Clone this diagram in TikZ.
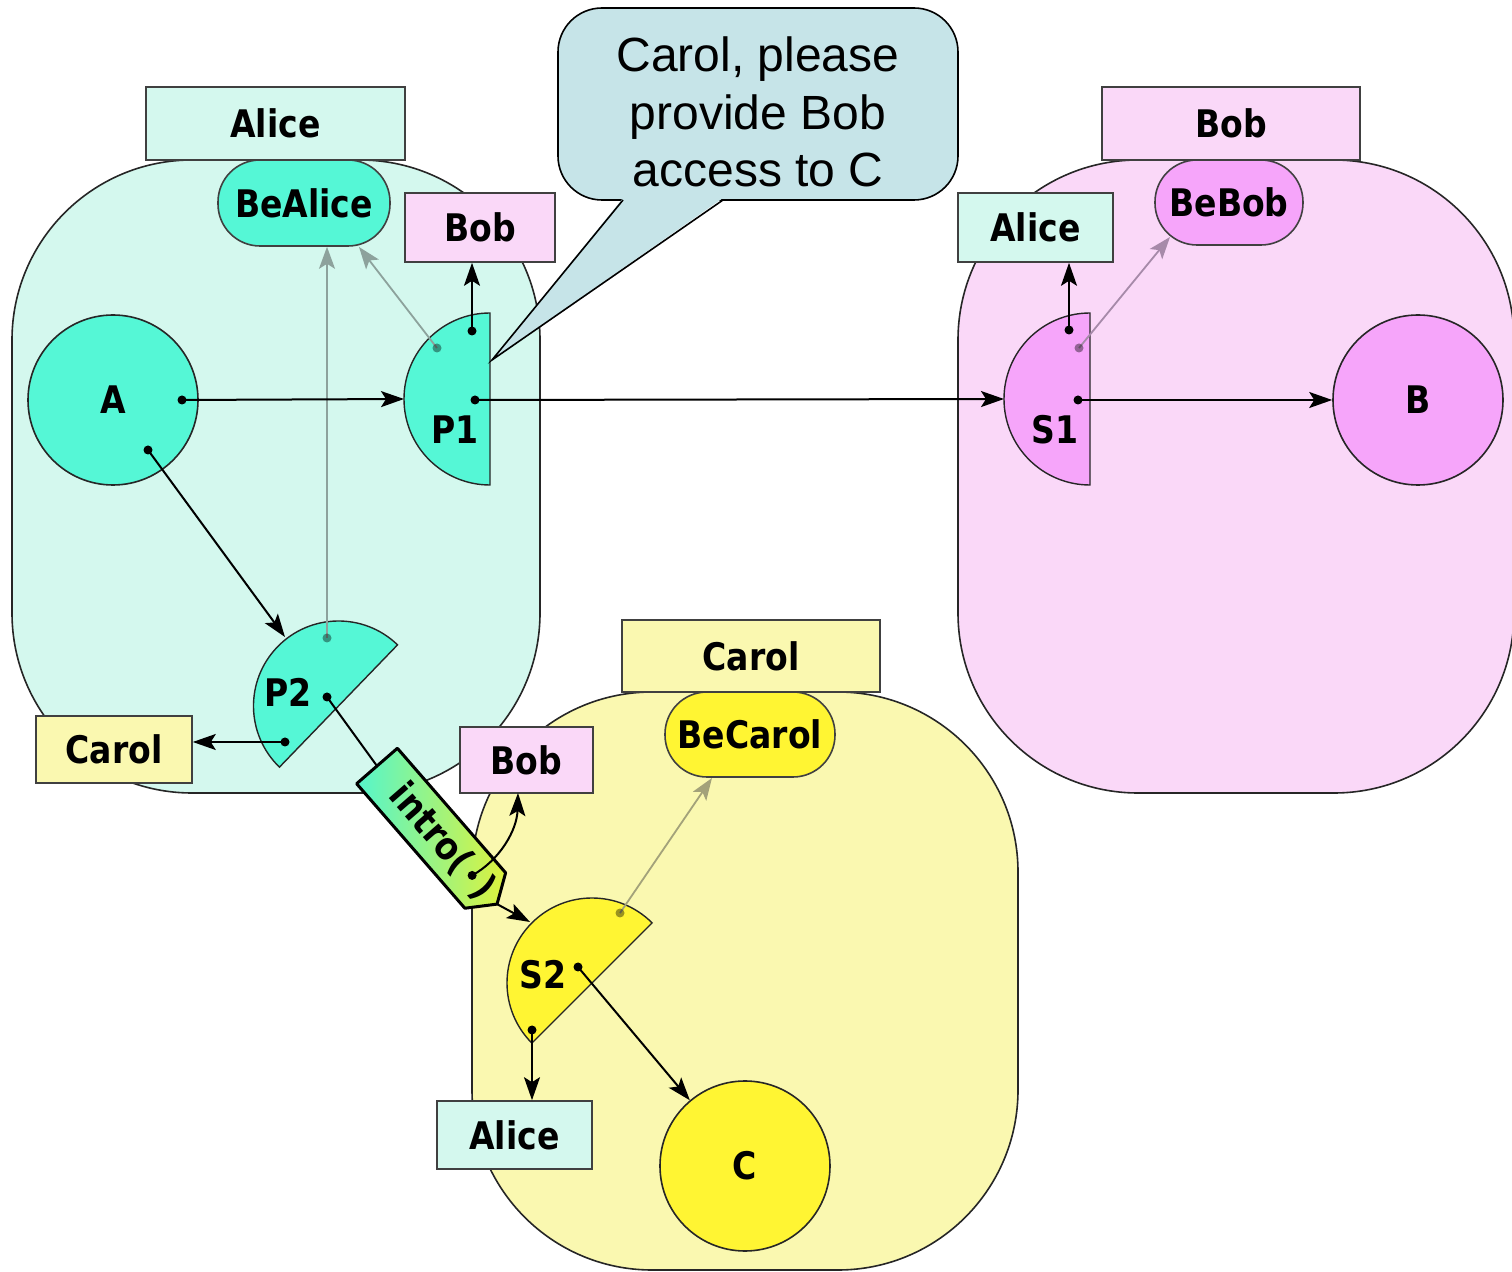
\documentclass[tikz,border=0pt]{standalone}
\usepackage{fontspec}
\setmainfont{DejaVu Sans}[FakeStretch=0.87]
\newfontfamily\bubblefont{Liberation Sans}
\usetikzlibrary{arrows.meta,calc}

\definecolor{aliceLight}{HTML}{D4F8EE}
\definecolor{aliceStrong}{HTML}{55F7D6}
\definecolor{bobLight}{HTML}{FAD8F8}
\definecolor{bobStrong}{HTML}{F6A5FA}
\definecolor{carolLight}{HTML}{FAF8B0}
\definecolor{carolStrong}{HTML}{FFF533}
\definecolor{bubbleFill}{HTML}{C6E4E8}
\definecolor{msgGreen}{HTML}{55F5CC}
\definecolor{msgYellow}{HTML}{DDF23C}
\definecolor{refAlice}{HTML}{8DA29C}
\definecolor{refBob}{HTML}{A68AA9}
\definecolor{refCarol}{HTML}{A3A27A}

\newcommand\lblfont{\bfseries\fontsize{19}{22}\selectfont}

\begin{document}
\begin{tikzpicture}[x=0.5pt,y=-0.5pt,
  vat/.style={draw=black!85, line width=0.8pt, rounded corners=90pt},
  tagbox/.style={draw=black!75, line width=0.8pt, inner sep=0pt, font=\lblfont},
  pill/.style={tagbox, rounded corners=21pt},
  orb/.style={circle, draw=black!85, line width=0.8pt, minimum size=85pt, inner sep=0pt, font=\lblfont},
  half/.style={draw=black!85, line width=0.7pt},
  facet/.style={font=\lblfont, inner sep=0pt},
  flow/.style={line width=1pt, -{Stealth[length=11.5pt,width=8pt,inset=2.5pt]}},
  refarrow/.style={line width=0.9pt, draw=#1, -{Stealth[length=11pt,width=8pt,inset=2.5pt]}},
  blackdot/.style={fill=black},
  refdot/.style={fill=black, fill opacity=0.4},
]
\useasboundingbox (0,0) rectangle (1512,1272);

% ---------- vats ----------
\filldraw[vat, fill=aliceLight] (12,160) rectangle (540,793);
\filldraw[vat, fill=bobLight] (958,160) rectangle (1514,793);
\filldraw[vat, fill=carolLight] (472,692) rectangle (1018,1270);

% ---------- vat headers ----------
\node[tagbox, fill=aliceLight, minimum width=129.5pt, minimum height=36.5pt] (hAlice) at (275.5,123.5) {Alice};
\node[tagbox, fill=bobLight, minimum width=129pt, minimum height=36.5pt] (hBob) at (1231,123.5) {Bob};
\node[tagbox, fill=carolLight, minimum width=129pt, minimum height=36pt] (hCarol) at (751,656) {Carol};

% ---------- self objects ----------
\node[pill, fill=aliceStrong, minimum width=86pt, minimum height=43pt] (beAlice) at (304,203) {BeAlice};
\node[pill, fill=bobStrong, minimum width=74pt, minimum height=42.5pt] (beBob) at (1229,202.5) {BeBob};
\node[pill, fill=carolStrong, minimum width=85pt, minimum height=42.5pt] (beCarol) at (750,734.5) {BeCarol};

% ---------- petname boxes ----------
\node[tagbox, fill=bobLight, minimum width=75pt, minimum height=34.5pt] (bobInA) at (480,227.5) {Bob};
\node[tagbox, fill=aliceLight, minimum width=77.5pt, minimum height=34.5pt] (aliceInB) at (1035.5,227.5) {Alice};
\node[tagbox, fill=carolLight, minimum width=78pt, minimum height=33.5pt] (carolInA) at (114,749.5) {Carol};
\node[tagbox, fill=bobLight, minimum width=66.5pt, minimum height=33pt] (bobInC) at (526.5,760) {Bob};
\node[tagbox, fill=aliceLight, minimum width=77.5pt, minimum height=34pt] (aliceInC) at (514.5,1135) {Alice};

% ---------- objects ----------
\node[orb, fill=aliceStrong] (A) at (113,400) {A};
\node[orb, fill=bobStrong] (B) at (1418,400) {B};
\node[orb, fill=carolStrong] (C) at (745,1166) {C};

% ---------- facets (half discs) ----------
\coordinate (p1c) at (490,399);
\coordinate (s1c) at (1090,399);
\coordinate (p2c) at (338.5,706);
\coordinate (s2c) at (592,983);
\filldraw[half, fill=aliceStrong] ($(p1c)+(90:86)$) arc[start angle=90, end angle=270, radius=86] -- cycle;
\filldraw[half, fill=bobStrong] ($(s1c)+(90:86)$) arc[start angle=90, end angle=270, radius=86] -- cycle;
\filldraw[half, fill=aliceStrong] ($(p2c)+(134:85)$) arc[start angle=134, end angle=314, radius=85] -- cycle;
\filldraw[half, fill=carolStrong] ($(s2c)+(135:85)$) arc[start angle=135, end angle=315, radius=85] -- cycle;
\node[facet] (P1) at (455,430) {P1};
\node[facet] (S1) at (1055,430) {S1};
\node[facet] (P2) at (288,692) {P2};
\node[facet] (S2) at (543,975) {S2};

% ---------- reference points ----------
\coordinate (a1) at (182,400);
\coordinate (a2) at (148,450);
\coordinate (p1top) at (472,331);
\coordinate (p1ref) at (437,348);
\coordinate (p1out) at (475,400);
\coordinate (p1in) at (404,399);
\coordinate (s1top) at (1069,330);
\coordinate (s1ref) at (1079,348);
\coordinate (s1out) at (1078,400);
\coordinate (s1in) at (1004,399);
\coordinate (p2ref) at (327,638);
\coordinate (p2out) at (327,697);
\coordinate (p2left) at (285,742);
\coordinate (p2in) at (285,637);
\coordinate (s2ref) at (620,913);
\coordinate (s2out) at (578,967);
\coordinate (s2down) at (532,1030);
\coordinate (s2in) at (530,922);
\coordinate (beAin) at (359,247);
\coordinate (beBin) at (1170,237);
\coordinate (beCin) at (712,778);
\coordinate (bobCin) at (518,793);

% ---------- message in transit ----------
\begin{scope}[shift={(377,766)}, rotate=-49]
  \shadedraw[left color=msgGreen, right color=msgYellow, draw=black, line width=1.5pt, line join=round]
    (0,-27) -- (165,-27) -- (183,0) -- (165,27) -- (0,27) -- cycle;
  \node[facet, rotate=-49, anchor=west] (msg) at (30,0) {intro(\hspace{10pt})};
  \coordinate (msgback) at (0,0);
  \coordinate (msgtip) at (183,0);
  \coordinate (idot) at (145,0);
\end{scope}

% ---------- references to self objects ----------
\draw[refarrow=refAlice] (p1ref) -- (beAin);
\draw[refarrow=refAlice] (p2ref) -- (p2ref |- beAlice.south);
\draw[refarrow=refBob] (s1ref) -- (beBin);
\draw[refarrow=refCarol] (s2ref) -- (beCin);

% ---------- references ----------
\draw[flow] (a1) -- (p1in);
\draw[flow] (a2) -- (p2in);
\draw[flow] (p1top) -- (p1top |- bobInA.south);
\draw[flow] (p1out) -- (s1in);
\draw[flow] (s1top) -- (s1top |- aliceInB.south);
\draw[flow] (s1out) -- (B);
\draw[flow] (p2left) -- (p2left -| carolInA.east);
\draw[line width=1pt] (p2out) -- (msgback);
\draw[flow] (msgtip) -- (s2in);
\draw[flow] (idot) .. controls (500,860) and (517,830) .. (bobCin);
\draw[flow] (s2out) -- (C);
\draw[flow] (s2down) -- (s2down |- aliceInC.north);

% ---------- dots ----------
\foreach \d in {a1,a2,p1top,p1out,s1top,s1out,p2out,p2left,s2out,s2down,idot}
  \fill[blackdot] (\d) circle[radius=4.5];
\foreach \d in {p1ref,s1ref,p2ref,s2ref}
  \fill[refdot] (\d) circle[radius=4.5];

% ---------- speech bubble ----------
\node[draw=black, line width=0.8pt, fill=bubbleFill, rounded corners=22pt,
      minimum width=200pt, minimum height=96pt, inner sep=0pt] (bubble) at (758,104) {};
\coordinate (tailL) at (623,200);
\coordinate (tailR) at (723,200);
\coordinate (tailTip) at (492,360);
\fill[bubbleFill] ($(tailL)+(0,-2)$) -- (tailTip) -- ($(tailR)+(0,-2)$) -- cycle;
\draw[line width=0.8pt, line join=miter] (tailL) -- (tailTip) -- (tailR);
\node[align=center, inner sep=0pt, font=\bubblefont\fontsize{24}{28.75}\selectfont] (bubbletext) at (758,112)
  {Carol, please\\provide Bob\\access to C};
\end{tikzpicture}
\end{document}
